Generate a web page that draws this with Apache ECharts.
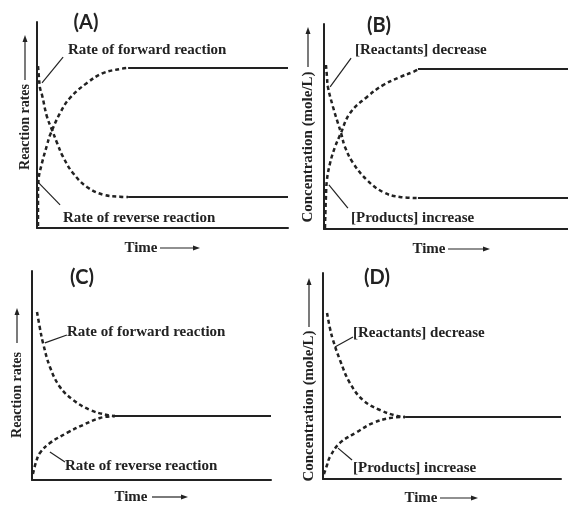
<!DOCTYPE html>
<html><head><meta charset="utf-8">
<script src="https://cdn.jsdelivr.net/npm/echarts@6/dist/echarts.min.js"></script>
<style>html,body{margin:0;padding:0;background:#fff}#c{width:568px;height:505px}</style>
</head><body><div id="c"></div>
<script>
// Panel (A): reaction rates, curves swapped
const aForward = [[0.4,78.6],[0.8,72.8],[1.2,68.0],[2.0,64.6],[4.0,53.9],[6.0,47.6],[8.0,41.3],[10.4,34.5],[14.3,26.7],[19.9,19.9],[26.3,16.2],[33.1,15.2],[36.3,15.0]];
const aReverse = [[0.4,1.0],[0.4,15.0],[0.6,23.3],[2.0,31.6],[4.0,40.3],[5.2,45.1],[9.2,55.8],[13.1,63.1],[19.9,70.4],[26.3,75.2],[33.1,77.2],[36.3,77.7]];
const aHigh = [[36.3,77.7],[100,77.7]];
const aLow = [[36.3,15.0],[100,15.0]];
// Panel (B): concentrations, curves swapped
const bForward = [[0.8,80.0],[1.2,74.6],[1.6,69.3],[3.7,59.5],[5.7,51.7],[7.0,46.8],[8.6,40.0],[11.9,32.2],[17.6,23.9],[24.2,18.0],[31.1,15.6],[38.5,15.1]];
const bReverse = [[0.4,0.5],[0.8,15.6],[1.2,23.9],[2.5,32.2],[4.5,40.0],[6.6,45.9],[10.7,56.6],[17.6,64.4],[24.2,70.2],[31.1,74.1],[36.5,76.6],[38.5,77.8]];
const bHigh = [[38.5,78.0],[100,78.0]];
const bLow = [[38.5,15.1],[100,15.1]];
// Panel (C): reaction rates
const cForward = [[2.1,80.4],[3.3,72.7],[4.6,65.6],[7.5,54.1],[11.7,44.5],[17.2,38.3],[24.3,33.5],[31.4,31.1],[34.7,30.6]];
const cReverse = [[0.4,2.9],[1.7,8.6],[3.3,12.9],[7.5,17.7],[14.6,22.5],[21.3,26.3],[28.5,29.7],[34.7,30.6]];
const cEq = [[34.7,30.6],[100,30.6]];
// Panel (D): concentrations
const dForward = [[1.7,80.6],[2.9,73.3],[4.2,67.5],[7.1,57.8],[11.3,46.6],[16.8,38.3],[23.9,33.5],[31.1,30.6],[34.5,30.1]];
const dReverse = [[0.4,2.4],[1.7,6.8],[2.9,10.7],[7.1,17.5],[14.3,22.8],[21.0,27.2],[28.2,29.6],[34.5,30.1]];
const dEq = [[34.5,30.1],[100,30.1]];
// Leader lines (data units) [x1,y1,x2,y2]
const leaders = [
  [[2.0,70.4,10.4,83.0],[0.4,22.3,9.2,11.2]],
  [[2.5,69.3,11.1,83.4],[2.0,21.5,9.8,10.2]],
  [[5.4,65.6,14.6,69.4],[7.5,13.4,13.8,8.6]],
  [[5.0,64.1,12.6,68.9],[6.3,15.0,12.2,9.2]]
];
const panelTitles = ['(A)','(B)','(C)','(D)'];
const rateLabels = ['Rate of forward reaction','Rate of reverse reaction'];
const concLabels = ['[Reactants] decrease','[Products] increase'];
const yNames = ['Reaction rates','Concentration (mole/L)','Reaction rates','Concentration (mole/L)'];
const xName = 'Time';

const INK = '#222';
const grids = [
  {left:37, top:22, width:251, height:206},
  {left:324, top:24, width:244, height:205},
  {left:32, top:271, width:239, height:209},
  {left:323, top:273, width:238, height:206}
];
const xAxes = grids.map((g,i)=>({type:'value', gridIndex:i, min:0, max:100,
  axisLine:{show:true, lineStyle:{color:INK, width:2}}, axisTick:{show:false}, axisLabel:{show:false}, splitLine:{show:false}}));
const yAxes = grids.map((g,i)=>({type:'value', gridIndex:i, min:0, max:100,
  axisLine:{show:true, lineStyle:{color:INK, width:2}}, axisTick:{show:false}, axisLabel:{show:false}, splitLine:{show:false}}));

function dashed(data, i, lead){
  const s = {type:'line', xAxisIndex:i, yAxisIndex:i, data, smooth:0.4, symbol:'none', silent:true,
    lineStyle:{color:INK, width:2.5, type:[4,3]}};
  if (lead) s.markLine = {silent:true, symbol:'none', label:{show:false},
    lineStyle:{color:INK, width:1.2, type:'solid'},
    data:[[{coord:[lead[0],lead[1]]},{coord:[lead[2],lead[3]]}]]};
  return s;
}
function solid(data, i){
  return {type:'line', xAxisIndex:i, yAxisIndex:i, data, symbol:'none', silent:true,
    lineStyle:{color:INK, width:2, type:'solid'}};
}
const series = [
  dashed(aForward,0,leaders[0][0]), dashed(aReverse,0,leaders[0][1]), solid(aHigh,0), solid(aLow,0),
  dashed(bForward,1,leaders[1][0]), dashed(bReverse,1,leaders[1][1]), solid(bHigh,1), solid(bLow,1),
  dashed(cForward,2,leaders[2][0]), dashed(cReverse,2,leaders[2][1]), solid(cEq,2),
  dashed(dForward,3,leaders[3][0]), dashed(dReverse,3,leaders[3][1]), solid(dEq,3)
];

const SERIF = 'bold 15px "Liberation Serif", "DejaVu Serif", serif';
const SERIF_RATE = 'bold 14px "Liberation Serif", "DejaVu Serif", serif';
function txt(text, x, y, font, align){
  return {type:'text', x, y, silent:true, style:{text, font:font||SERIF, fill:INK, textAlign:align||'left', textVerticalAlign:'middle'}};
}
function vtxt(text, x, y, font){
  return {type:'text', x, y, rotation:Math.PI/2, silent:true, style:{text, x:0, y:0, font:font||SERIF, fill:INK, textAlign:'center', textVerticalAlign:'middle'}};
}
function arrowH(x1, x2, y){
  return [{type:'line', silent:true, shape:{x1, y1:y, x2:x2-4, y2:y}, style:{stroke:INK, lineWidth:1.2}},
          {type:'polygon', silent:true, shape:{points:[[x2,y],[x2-7,y-2.5],[x2-7,y+2.5]]}, style:{fill:INK}}];
}
function arrowV(x, y1, y2){
  return [{type:'line', silent:true, shape:{x1:x, y1, x2:x, y2:y2+4}, style:{stroke:INK, lineWidth:1.2}},
          {type:'polygon', silent:true, shape:{points:[[x,y2],[x-2.5,y2+7],[x+2.5,y2+7]]}, style:{fill:INK}}];
}
const TITLE = 'bold 20px Lato, "Open Sans", sans-serif';
const graphic = [
  txt(panelTitles[0], 86, 23, TITLE, 'center'),
  txt(panelTitles[1], 379, 26, TITLE, 'center'),
  txt(panelTitles[2], 82, 278, TITLE, 'center'),
  txt(panelTitles[3], 377, 278, TITLE, 'center'),
  txt(rateLabels[0], 68, 50), txt(rateLabels[1], 63, 218),
  txt(concLabels[0], 355, 50), txt(concLabels[1], 351, 218),
  txt(rateLabels[0], 67, 332), txt(rateLabels[1], 65, 466),
  txt(concLabels[0], 353, 333), txt(concLabels[1], 353, 468),
  vtxt(yNames[0], 25, 127, SERIF_RATE), ...arrowV(25, 80, 35),
  vtxt(yNames[1], 308, 147), ...arrowV(308, 67, 27),
  vtxt(yNames[2], 17, 395, SERIF_RATE), ...arrowV(17, 343, 308),
  vtxt(yNames[3], 309, 406), ...arrowV(309, 327, 278),
  txt(xName, 141, 248, null, 'center'), ...arrowH(160, 200, 248),
  txt(xName, 429, 249, null, 'center'), ...arrowH(448, 490, 249),
  txt(xName, 131, 497, null, 'center'), ...arrowH(152, 188, 497),
  txt(xName, 421, 498, null, 'center'), ...arrowH(440, 478, 498)
];

const chart = echarts.init(document.getElementById('c'), null, {renderer:'canvas'});
chart.setOption({animation:false, backgroundColor:'#fff', grid:grids, xAxis:xAxes, yAxis:yAxes, series, graphic});
</script></body></html>
